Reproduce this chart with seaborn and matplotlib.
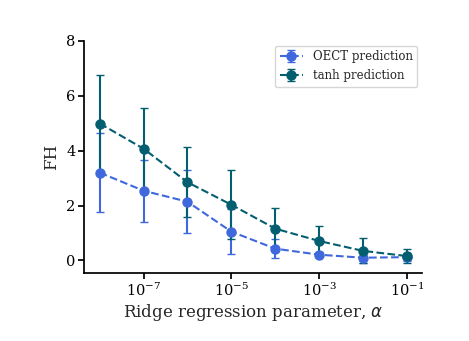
import numpy as np
import matplotlib
matplotlib.use("Agg")
import matplotlib.pyplot as plt
import seaborn as sns

alphas = [1e-8, 1e-7, 1e-6, 1e-5, 1e-4, 1e-3, 1e-2, 1e-1]
oect_mean = [3.2, 2.54, 2.14, 1.05, 0.43, 0.21, 0.10, 0.12]
oect_err = [1.43, 1.13, 1.15, 0.81, 0.34, 0.08, 0.2, 0.15]
tanh_mean = [4.99, 4.07, 2.85, 2.03, 1.16, 0.71, 0.35, 0.16]
tanh_err = [1.75, 1.5, 1.28, 1.26, 0.74, 0.54, 0.46, 0.25]

sns.set_theme(style="ticks")
plt.rcParams['font.family'] = ['DejaVu Serif']
plt.rcParams['mathtext.fontset'] = 'dejavusans'

fig, ax = plt.subplots(figsize=(4.69, 3.41), dpi=100)
c1 = "#3f68dc"
c2 = "#035e70"
ax.errorbar(alphas, oect_mean, yerr=oect_err, fmt='o--', color=c1, ecolor=c1,
            capsize=3, markersize=6.5, lw=1.5, elinewidth=1.5, label="OECT prediction")
ax.errorbar(alphas, tanh_mean, yerr=tanh_err, fmt='o--', color=c2, ecolor=c2,
            capsize=3, markersize=6.5, lw=1.5, elinewidth=1.5, label="tanh prediction")
ax.set_xscale('log')
ax.set_xticks([1e-7, 1e-5, 1e-3, 1e-1])
ax.minorticks_off()
ax.set_ylim(-0.45, 8)
ax.set_yticks([0, 2, 4, 6, 8])
ax.tick_params(labelsize=10.5, colors='black', length=4, pad=2.5)
ax.set_xlabel(r"Ridge regression parameter, $\alpha$", fontsize=12, labelpad=2)
ax.set_ylabel("FH", fontsize=12)
for s in ax.spines.values():
    s.set_color('black')
sns.despine(ax=ax)
ax.legend(loc='upper right', fontsize=8.5, frameon=True, borderaxespad=0.4,
          handlelength=2.0)
fig.subplots_adjust(left=0.18, right=0.9, top=0.88, bottom=0.2)
fig.savefig("out.png", dpi=100)
